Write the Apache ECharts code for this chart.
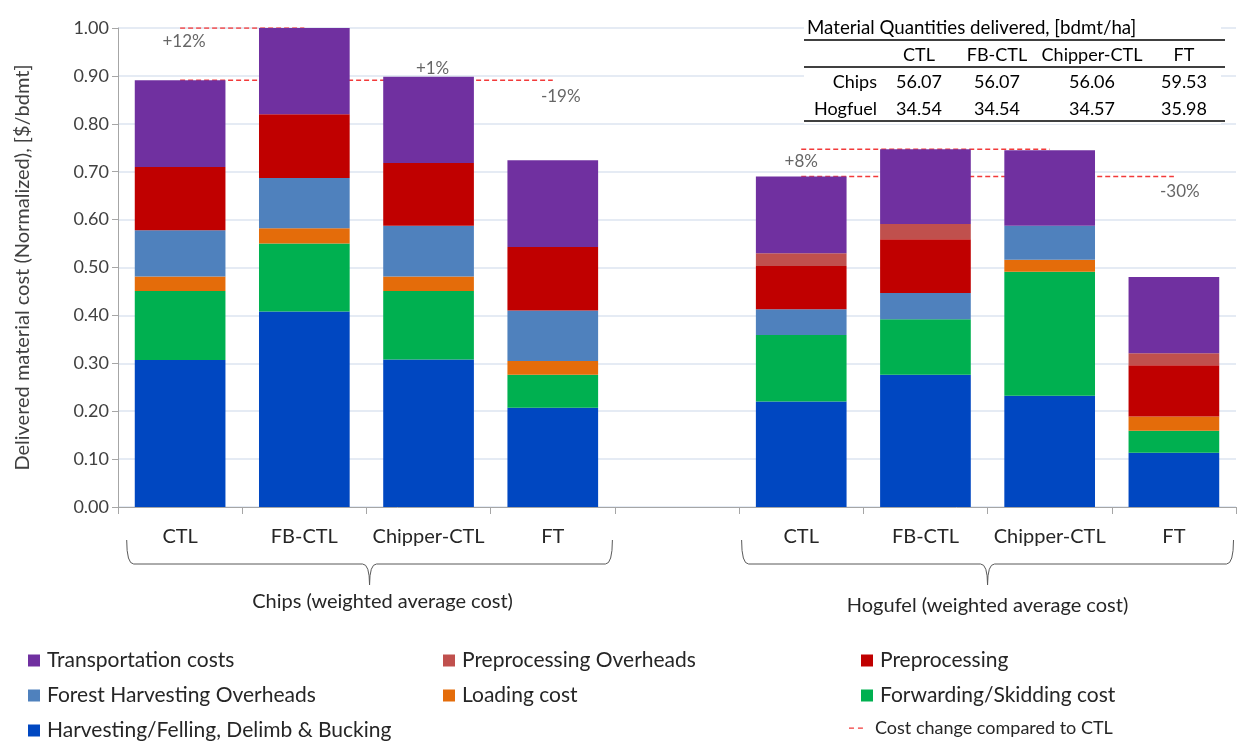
<!DOCTYPE html>
<html>
<head>
<meta charset="utf-8">
<script src="https://cdn.jsdelivr.net/npm/echarts@6/dist/echarts.min.js"></script>
<style>
  html, body { margin: 0; padding: 0; background: #fff; }
  #chart { width: 1243px; height: 747px; }
</style>
</head>
<body>
<div id="chart"></div>
<script>
// Categories: four harvesting systems for chips, an empty spacer slot, then hogfuel
const categories = ['CTL', 'FB-CTL', 'Chipper-CTL', 'FT', '', 'CTL', 'FB-CTL', 'Chipper-CTL', 'FT'];

// Normalized delivered cost components, $/bdmt (stacked bottom to top)
const harvesting    = [0.307, 0.408, 0.308, 0.207, null, 0.220, 0.276, 0.232, 0.113];
const forwarding    = [0.144, 0.142, 0.143, 0.069, null, 0.139, 0.116, 0.259, 0.046];
const loading       = [0.030, 0.032, 0.030, 0.029, null, 0.000, 0.000, 0.025, 0.030];
const forestOverhd  = [0.097, 0.105, 0.106, 0.105, null, 0.054, 0.055, 0.071, 0.000];
const preprocessing = [0.132, 0.133, 0.131, 0.133, null, 0.090, 0.112, 0.000, 0.107];
const preprocOverhd = [0.000, 0.000, 0.000, 0.000, null, 0.027, 0.032, 0.000, 0.025];
const transport     = [0.181, 0.180, 0.180, 0.181, null, 0.160, 0.156, 0.158, 0.159];

// Product groups shown under the axis
const groupNames = ['Chips (weighted average cost)', 'Hogufel (weighted average cost)'];
const groupFirst = [0, 5];
const groupLast  = [3, 8];

// Reference lines: drawn at the total of levelOf, spanning lineFrom..lineTo
const lineFrom = [0, 0, 5, 5];
const lineTo   = [1, 3, 7, 8];
const levelOf  = [1, 0, 6, 5];

// Percentage change labels: system vs. its CTL baseline
const changeOf   = [1, 2, 3, 6, 8];
const changeBase = [0, 0, 0, 5, 5];

// Quantities table
const tableTitle = 'Material Quantities delivered, [bdmt/ha]';
const tableColumns = ['CTL', 'FB-CTL', 'Chipper-CTL', 'FT'];
const tableRowNames = ['Chips', 'Hogfuel'];
const chipsQty   = ['56.07', '56.07', '56.06', '59.53'];
const hogfuelQty = ['34.54', '34.54', '34.57', '35.98'];

const FONT = 'Lato, "Open Sans", sans-serif';
const TEXT = '#262626';

const stackDefs = [
  ['Harvesting/Felling, Delimb & Bucking', harvesting, '#0047c1'],
  ['Forwarding/Skidding cost', forwarding, '#00b050'],
  ['Loading cost', loading, '#e46c0a'],
  ['Forest Harvesting Overheads', forestOverhd, '#4f81bd'],
  ['Preprocessing', preprocessing, '#c00000'],
  ['Preprocessing Overheads', preprocOverhd, '#c0504d'],
  ['Transportation costs', transport, '#7030a0']
];

const totals = categories.map((c, i) =>
  stackDefs.reduce((s, d) => s + (d[1][i] || 0), 0));

const chart = echarts.init(document.getElementById('chart'), null, { renderer: 'canvas' });

const series = [];
const CHANGE = 'Cost change compared to CTL';
const DASH_RED = '#f23a3a';
lineFrom.forEach((f, k) => {
  const lvl = totals[levelOf[k]];
  series.push({
    name: CHANGE, type: 'line', xAxisIndex: 1, yAxisIndex: 0,
    data: [[f, lvl], [lineTo[k], lvl]],
    symbol: 'none', silent: true, z: 1,
    lineStyle: { color: DASH_RED, width: 1.5, type: [5, 3] }
  });
});

stackDefs.forEach(d => {
  series.push({
    name: d[0], type: 'bar', stack: 'cost', data: d[1],
    barWidth: '73%', z: 2,
    itemStyle: { color: d[2] },
    emphasis: { disabled: true }
  });
});

// Label placement offsets around each anchor point (pixels)
const labelOffsets = [[4, 14], [4, -12], [8, 16], [0, 12], [6, 15]];
const labelLevels  = [1, 0, 0, 6, 5];
series.push({
  type: 'scatter', xAxisIndex: 1, yAxisIndex: 0, symbolSize: 0, silent: true, z: 5,
  data: changeOf.map((c, k) => {
    const pct = Math.round((totals[c] / totals[changeBase[k]] - 1) * 100);
    const anchorX = (k === 0 || k === 3) ? changeBase[k] : c;
    return {
      value: [anchorX, totals[labelLevels[k]]],
      label: {
        show: true, position: 'inside', offset: labelOffsets[k],
        formatter: (pct > 0 ? '+' : '') + pct + '%',
        color: '#404040', fontFamily: FONT, fontSize: 17
      }
    };
  })
});

const legendText = { color: TEXT, fontFamily: FONT, fontSize: 21, padding: [0, 0, 0, 2] };
const legendCommon = {
  orient: 'vertical', itemWidth: 12, itemHeight: 12, itemGap: 14,
  textStyle: legendText, selectedMode: false, icon: 'rect', padding: 0
};
const dashIcon = 'path://M0,0h0.05v0.05h-0.05z M0,5.4h5v1.3h-5z M9,5.4h5v1.3h-5z M16,12h0.05v0.05h-0.05z';

const option = {
  animation: false,
  backgroundColor: '#fff',
  grid: { left: 118, right: 7, top: 28, bottom: 240, containLabel: false },
  xAxis: [
    {
      type: 'category', data: categories,
      axisLine: { lineStyle: { color: '#a6a6a6', width: 1 } },
      axisTick: { show: true, interval: 0, length: 7, lineStyle: { color: '#a6a6a6' } },
      axisLabel: { interval: 0, color: TEXT, fontFamily: FONT, fontSize: 20, margin: 20 }
    },
    { type: 'value', min: -0.5, max: 8.5, show: false }
  ],
  yAxis: {
    type: 'value', min: 0, max: 1, interval: 0.1,
    name: 'Delivered material cost (Normalized), [$/bdmt]',
    nameLocation: 'middle', nameGap: 85, nameRotate: 90,
    nameTextStyle: { color: '#404040', fontFamily: FONT, fontSize: 20 },
    axisLine: { show: true, onZero: false, lineStyle: { color: '#a6a6a6' } },
    axisTick: { show: true, length: 6, lineStyle: { color: '#a6a6a6' } },
    axisLabel: { color: '#404040', fontFamily: FONT, fontSize: 18, margin: 9,
      formatter: v => v.toFixed(2) },
    splitLine: { lineStyle: { color: '#dce5f1', width: 1.5 } }
  },
  legend: [
    Object.assign({ left: 28, top: 650,
      data: ['Transportation costs', 'Forest Harvesting Overheads', 'Harvesting/Felling, Delimb & Bucking'] }, legendCommon),
    Object.assign({ left: 443, top: 650,
      data: ['Preprocessing Overheads', 'Loading cost'] }, legendCommon),
    Object.assign({ left: 861, top: 650,
      data: ['Preprocessing', 'Forwarding/Skidding cost'] }, legendCommon),
    Object.assign({}, legendCommon, { left: 849, top: 719, itemWidth: 16,
      data: [{ name: CHANGE, icon: dashIcon, itemStyle: { color: DASH_RED } }],
      textStyle: { color: TEXT, fontFamily: FONT, fontSize: 18, padding: [0, 0, 0, 5] } })
  ],
  series: series
};

chart.setOption(option);

// Braces under each product group and the quantities table
const braceLeftPad  = [0.43, 0.48];
const braceRightPad = [0.48, 0.48];
function buildGraphics() {
  const g = [];
  const yTop = 540, yBar = 564, yTip = 585, r = 7;
  const ink = { fill: null, stroke: '#595959', lineWidth: 1 };
  groupNames.forEach((name, k) => {
    const x0 = chart.convertToPixel({ xAxisIndex: 1 }, groupFirst[k] - braceLeftPad[k]);
    const x1 = chart.convertToPixel({ xAxisIndex: 1 }, groupLast[k] + braceRightPad[k]);
    const xc = (x0 + x1) / 2;
    g.push({ type: 'bezierCurve', silent: true, style: ink,
      shape: { x1: x0, y1: yTop, cpx1: x0, cpy1: yBar, x2: x0 + r, y2: yBar } });
    g.push({ type: 'line', silent: true, style: ink,
      shape: { x1: x0 + r, y1: yBar, x2: xc - r, y2: yBar } });
    g.push({ type: 'bezierCurve', silent: true, style: ink,
      shape: { x1: xc - r, y1: yBar, cpx1: xc, cpy1: yBar, x2: xc, y2: yTip } });
    g.push({ type: 'bezierCurve', silent: true, style: ink,
      shape: { x1: xc, y1: yTip, cpx1: xc, cpy1: yBar, x2: xc + r, y2: yBar } });
    g.push({ type: 'line', silent: true, style: ink,
      shape: { x1: xc + r, y1: yBar, x2: x1 - r, y2: yBar } });
    g.push({ type: 'bezierCurve', silent: true, style: ink,
      shape: { x1: x1 - r, y1: yBar, cpx1: x1, cpy1: yBar, x2: x1, y2: yTop } });
    g.push({
      type: 'text', silent: true, x: xc + (k === 0 ? 13 : 0), y: k === 0 ? 602 : 606,
      style: { text: name, fill: TEXT, font: `20px ${FONT}`, align: 'center', verticalAlign: 'middle' }
    });
  });

  // Table
  const tx0 = 804, tx1 = 1225;
  const colX = [919, 997, 1092, 1184];
  const rowLabelX = 877;
  const tFont = `18px ${FONT}`;
  g.push({ type: 'rect', silent: true, shape: { x: tx0, y: 12, width: tx1 - tx0 - 4, height: 112 },
    style: { fill: '#fff' }, z: 10 });
  [40, 67, 121].forEach(y => g.push({ type: 'line', silent: true, z: 11,
    shape: { x1: tx0, y1: y, x2: tx1, y2: y }, style: { stroke: '#000', lineWidth: 1.5 } }));
  g.push({ type: 'text', silent: true, z: 11, x: 807, y: 28,
    style: { text: tableTitle, fill: '#000', font: `18.7px ${FONT}`, align: 'left', verticalAlign: 'middle' } });
  tableColumns.forEach((c, i) => g.push({ type: 'text', silent: true, z: 11, x: colX[i], y: 55,
    style: { text: c, fill: '#000', font: tFont, align: 'center', verticalAlign: 'middle' } }));
  [chipsQty, hogfuelQty].forEach((row, r2) => {
    const y = r2 === 0 ? 82 : 109;
    g.push({ type: 'text', silent: true, z: 11, x: rowLabelX, y: y,
      style: { text: tableRowNames[r2], fill: '#000', font: tFont, align: 'right', verticalAlign: 'middle' } });
    row.forEach((v, i) => g.push({ type: 'text', silent: true, z: 11, x: colX[i], y: y,
      style: { text: v, fill: '#000', font: tFont, align: 'center', verticalAlign: 'middle' } }));
  });
  return g;
}

chart.setOption({ graphic: buildGraphics() });
</script>
</body>
</html>
